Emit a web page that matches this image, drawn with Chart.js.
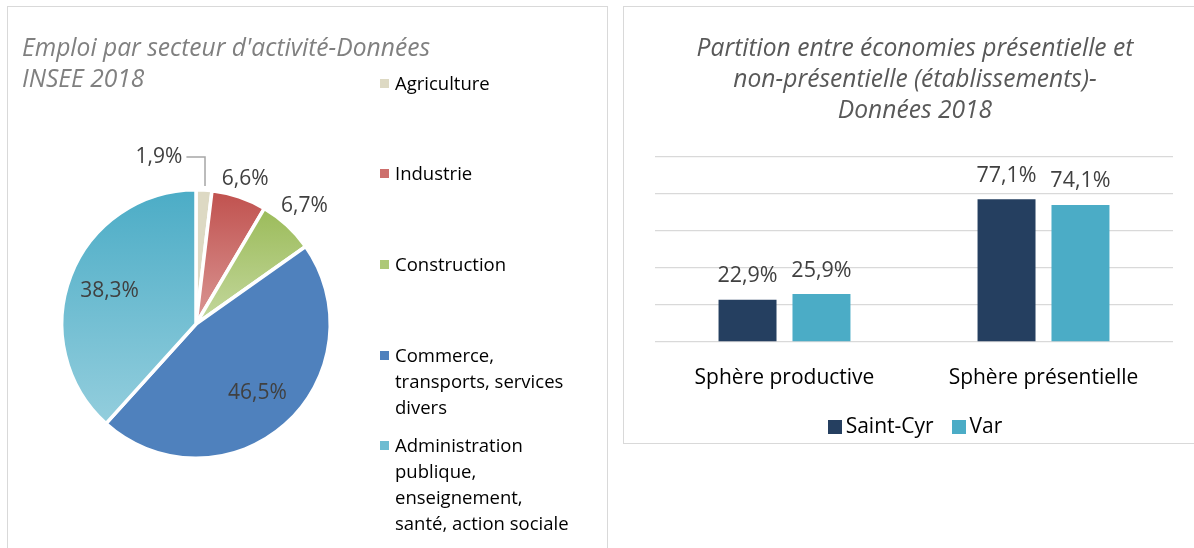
<!DOCTYPE html>
<html>
<head>
<meta charset="utf-8">
<script src="https://cdn.jsdelivr.net/npm/chart.js@4.4.1/dist/chart.umd.min.js"></script>
<style>
  html, body { margin:0; padding:0; background:#fff; width:1194px; height:548px; overflow:hidden; font-family: "Open Sans", sans-serif; }
  .panel { position:absolute; border:1.5px solid #d9d9d9; box-sizing:border-box; }
  canvas { position:absolute; top:0; }
  .title { position:absolute; font-style:italic; font-size:24.6px; line-height:31px; white-space:nowrap; }
  #leftLegend { position:absolute; left:380px; top:0; }
  .lgItem { position:absolute; left:0; width:230px; font-size:18.5px; line-height:26px; color:#000; }
  .lgItem .sw { position:absolute; left:0; top:9px; width:9px; height:9px; }
  .lgItem .tx { position:absolute; left:15px; top:0; white-space:nowrap; }
  #barLegend { position:absolute; left:615px; width:600px; top:411px; text-align:center; font-size:21px; line-height:28px; }
  #barLegend span.it { display:inline-block; margin:0 9px; }
  #barLegend span.sw { display:inline-block; width:14px; height:14px; margin-right:4px; vertical-align:-1px; }
</style>
</head>
<body>
<div class="panel" style="left:7px; top:6px; width:601px; height:560px;"></div>
<div class="panel" style="left:623px; top:6px; width:590px; height:438px;"></div>
<canvas id="pie" width="610" height="548" style="left:0;"></canvas>
<canvas id="bar" width="584" height="548" style="left:610px;"></canvas>
<div class="title" id="leftTitle" style="left:22px; top:31px; color:#808080;"></div>
<div class="title" id="rightTitle" style="left:615px; width:600px; top:31px; text-align:center; color:#595959;"></div>
<div id="leftLegend"></div>
<div id="barLegend"></div>
<script>
// ---------- data ----------
const pieTitleLines = ["Emploi par secteur d'activité-Données", "INSEE 2018"];
const pieCategories = [
  ["Agriculture"],
  ["Industrie"],
  ["Construction"],
  ["Commerce,", "transports, services", "divers"],
  ["Administration", "publique,", "enseignement,", "santé, action sociale"]
];
const pieValues = [1.9, 6.6, 6.7, 46.5, 38.3];

const barTitleLines = ["Partition entre économies présentielle et", "non-présentielle (établissements)-", "Données 2018"];
const barCategories = ["Sphère productive", "Sphère présentielle"];
const seriesNames = ["Saint-Cyr", "Var"];
const saintCyrValues = [22.9, 77.1];
const varValues = [25.9, 74.1];
const yTickValues = [0, 20, 40, 60, 80, 100];

// ---------- styles ----------
const pieTop = ['#DDD9C3', '#C0504D', '#9BBB59', '#4F81BD', '#4BACC6'];
const pieBottom = ['#DDD9C3', '#DA9795', '#C4D89E', '#4F81BD', '#94CEDD'];
const pieSwatch = ['#DDD9C3', '#CD6F6C', '#ADC877', '#4F81BD', '#6DBCD1'];
const barColors = ['#253F60', '#4BACC6'];
const FONT = '"Open Sans"';
Chart.defaults.font.family = FONT;

const fmt = v => v.toFixed(1).replace('.', ',') + '%';

// ---------- html titles & legends ----------
document.getElementById('leftTitle').innerHTML = pieTitleLines.join('<br>');
document.getElementById('rightTitle').innerHTML = barTitleLines.join('<br>');
const legTops = [70, 160, 251, 342, 432];
const ll = document.getElementById('leftLegend');
pieCategories.forEach((lines, i) => {
  const d = document.createElement('div');
  d.className = 'lgItem';
  d.style.top = legTops[i] + 'px';
  d.innerHTML = '<span class="sw" style="background:' + pieSwatch[i] + '"></span><span class="tx">' + lines.join('<br>') + '</span>';
  ll.appendChild(d);
});
document.getElementById('barLegend').innerHTML = seriesNames.map((n, i) =>
  '<span class="it"><span class="sw" style="background:' + barColors[i] + '"></span>' + n + '</span>').join('');

// ---------- pie ----------
const total = pieValues.reduce((s, v) => s + v, 0);
function sliceGradient(c) {
  const chart = c.chart, a = chart.chartArea, i = c.dataIndex;
  if (!a) return pieTop[i];
  let before = 0; for (let k = 0; k < i; k++) before += pieValues[k];
  const t0 = -Math.PI / 2 + before / total * 2 * Math.PI;
  const t1 = t0 + pieValues[i] / total * 2 * Math.PI;
  const cx = (a.left + a.right) / 2, cy = (a.top + a.bottom) / 2;
  const r = Math.min(a.right - a.left, a.bottom - a.top) / 2;
  const ys = [cy, cy + r * Math.sin(t0), cy + r * Math.sin(t1)];
  const inR = th => { let x = th; while (x < t0) x += 2 * Math.PI; return x <= t1; };
  if (inR(-Math.PI / 2)) ys.push(cy - r);
  if (inR(Math.PI / 2)) ys.push(cy + r);
  const g = chart.ctx.createLinearGradient(0, Math.min(...ys), 0, Math.max(...ys));
  g.addColorStop(0, pieTop[i]);
  g.addColorStop(1, pieBottom[i]);
  return g;
}
const pieLabels = {
  id: 'pieLabels',
  afterDatasetsDraw(chart) {
    const ctx = chart.ctx;
    const meta = chart.getDatasetMeta(0);
    ctx.save();
    ctx.font = '21px ' + FONT;
    ctx.fillStyle = '#404040';
    ctx.textAlign = 'center';
    ctx.textBaseline = 'middle';
    meta.data.forEach((arc, i) => {
      const p = arc.getProps(['x', 'y', 'startAngle', 'endAngle', 'outerRadius'], true);
      const mid = (p.startAngle + p.endAngle) / 2;
      const cs = Math.cos(mid), sn = Math.sin(mid);
      const text = fmt(pieValues[i]);
      const w = ctx.measureText(text).width, h = 16;
      let lx, ly;
      if (pieValues[i] > 20) {
        lx = p.x + cs * p.outerRadius * 0.69;
        ly = p.y + sn * p.outerRadius * 0.69;
      } else if (pieValues[i] > 3) {
        const d = p.outerRadius + 4 + Math.abs(cs) * w / 2 + Math.abs(sn) * h / 2;
        lx = p.x + cs * d; ly = p.y + sn * d;
      } else {
        const ax = p.x + cs * p.outerRadius, ay = p.y + sn * p.outerRadius;
        lx = ax - 45; ly = ay - 33;
        ctx.save();
        ctx.strokeStyle = '#A6A6A6';
        ctx.lineWidth = 1.5;
        ctx.beginPath();
        ctx.moveTo(ax + 1, ay - 4);
        ctx.lineTo(ax + 1, ly);
        ctx.lineTo(lx + w / 2 + 4, ly);
        ctx.stroke();
        ctx.restore();
      }
      ctx.fillText(text, lx, ly);
    });
    ctx.restore();
  }
};
new Chart(document.getElementById('pie'), {
  type: 'pie',
  data: {
    labels: pieCategories.map(l => l.join(' ')),
    datasets: [{ data: pieValues, backgroundColor: sliceGradient, borderColor: '#ffffff', borderWidth: 3.5 }]
  },
  options: {
    responsive: false, animation: false,
    layout: { padding: { left: 60, right: 278, top: 188, bottom: 88 } },
    plugins: { legend: { display: false }, title: { display: false }, tooltip: { enabled: false } }
  },
  plugins: [pieLabels]
});

// ---------- bar ----------
const barLabels = {
  id: 'barLabels',
  afterDatasetsDraw(chart) {
    const ctx = chart.ctx;
    ctx.save();
    ctx.font = '21.5px ' + FONT;
    ctx.fillStyle = '#404040';
    ctx.textAlign = 'center';
    ctx.textBaseline = 'alphabetic';
    chart.data.datasets.forEach((ds, di) => {
      chart.getDatasetMeta(di).data.forEach((bar, i) => {
        ctx.fillText(fmt(ds.data[i]), bar.x, bar.y - 17.5);
      });
    });
    ctx.restore();
  }
};
new Chart(document.getElementById('bar'), {
  type: 'bar',
  data: {
    labels: barCategories,
    datasets: [
      { label: seriesNames[0], data: saintCyrValues, backgroundColor: barColors[0] },
      { label: seriesNames[1], data: varValues, backgroundColor: barColors[1] }
    ]
  },
  options: {
    responsive: false, animation: false,
    categoryPercentage: 0.571, barPercentage: 0.784,
    layout: { padding: { left: 45, right: 21, top: 157, bottom: 146 } },
    plugins: { legend: { display: false }, title: { display: false }, tooltip: { enabled: false } },
    scales: {
      x: {
        grid: { display: false }, border: { display: false },
        ticks: { color: '#000000', font: { size: 21 }, padding: 15 },
        afterFit(s) { s.height = 60; }
      },
      y: {
        min: yTickValues[0], max: yTickValues[yTickValues.length - 1],
        afterBuildTicks(s) { s.ticks = yTickValues.map(v => ({ value: v })); },
        ticks: { display: false },
        grid: { color: '#D9D9D9', lineWidth: 1.3, drawTicks: false },
        border: { display: false }
      }
    }
  },
  plugins: [barLabels]
});
</script>
</body>
</html>
